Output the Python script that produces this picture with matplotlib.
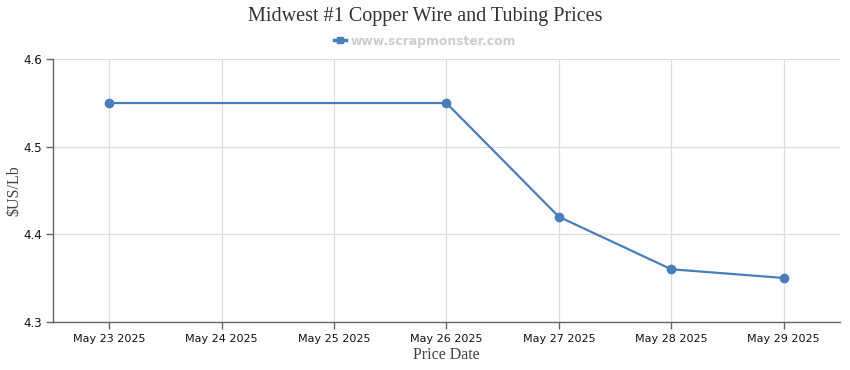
import matplotlib
matplotlib.use("Agg")
import matplotlib.pyplot as plt
from matplotlib.lines import Line2D
import datetime as dt

dates = ["2025-05-23", "2025-05-26", "2025-05-27", "2025-05-28", "2025-05-29"]
prices = [4.55, 4.55, 4.42, 4.36, 4.35]
tick_dates = ["2025-05-23", "2025-05-24", "2025-05-25", "2025-05-26", "2025-05-27", "2025-05-28", "2025-05-29"]
tick_labels = ["May 23 2025", "May 24 2025", "May 25 2025", "May 26 2025", "May 27 2025", "May 28 2025", "May 29 2025"]
y_ticks = [4.3, 4.4, 4.5, 4.6]

to_d = lambda s: dt.datetime.strptime(s, "%Y-%m-%d")
x = [to_d(d) for d in dates]
tx = [to_d(d) for d in tick_dates]

line_color = "#4a7ebb"
axis_color = "#666666"
grid_color = "#dddddd"

fig = plt.figure(figsize=(8.5, 3.7), dpi=100)
ax = fig.add_axes([0.0624, 0.1305, 0.9256, 0.7092])

ax.plot(x, prices, color=line_color, lw=1.6, marker="o", ms=6, zorder=3)

ax.set_xticks(tx)
ax.set_xticklabels(tick_labels, fontsize=8, family="DejaVu Sans")
ax.set_xlim(tx[0] - dt.timedelta(hours=12), tx[-1] + dt.timedelta(hours=12))
ax.set_ylim(4.3, 4.6)
ax.set_yticks(y_ticks)
ax.set_yticklabels([f"{v:.1f}" for v in y_ticks], fontsize=8.5)

ax.grid(True, color=grid_color, lw=0.9)
ax.set_axisbelow(True)
for s in ["top", "right"]:
    ax.spines[s].set_visible(False)
for s in ["left", "bottom"]:
    ax.spines[s].set_color(axis_color)
    ax.spines[s].set_linewidth(1.0)
ax.tick_params(axis="both", color=axis_color, length=5, width=1, labelcolor="#111111")
ax.tick_params(axis="x", pad=4)
ax.tick_params(axis="y", pad=3)

fig.text(0.0175, 0.486, "$US/Lb", rotation=90, ha="center", va="center",
         family="Liberation Serif", fontsize=11.5, color="#444444")
ax.set_xlabel("Price Date", family="Liberation Serif", fontsize=11.5, color="#444444", labelpad=2)

fig.text(0.5, 0.955, "Midwest #1 Copper Wire and Tubing Prices", ha="center", va="center",
         family="Liberation Serif", fontsize=14.5, color="#333333")

handle = Line2D([], [], color=line_color, lw=2.5, marker="s", ms=5)
fig.legend([handle], ["www.scrapmonster.com"], loc="center", bbox_to_anchor=(0.5, 0.889),
           frameon=False, handlelength=1.0, handletextpad=0.4,
           prop={"family": "DejaVu Sans", "weight": "bold", "size": 8.9}, labelcolor="#cccccc")

fig.savefig("out.png", dpi=100, facecolor="white")
